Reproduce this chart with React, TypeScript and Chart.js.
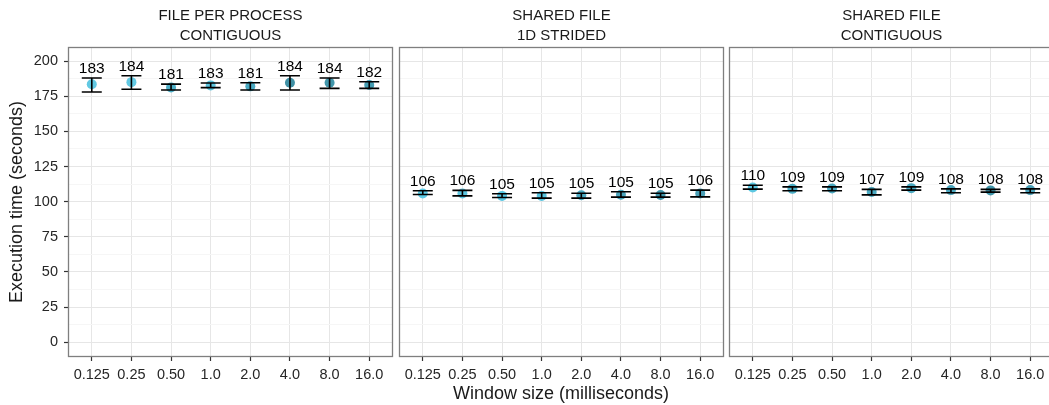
import React, { useEffect, useRef } from "react";
import { Chart, registerables } from "chart.js";

Chart.register(...registerables);

// ---------- data ----------
const windowSizes = ["0.125", "0.25", "0.50", "1.0", "2.0", "4.0", "8.0", "16.0"];
const yMajorTicks = [0, 25, 50, 75, 100, 125, 150, 175, 200];
const yMinorTicks = [12.5, 37.5, 62.5, 87.5, 112.5, 137.5, 162.5, 187.5];

const stripTitles = [
  ["FILE PER PROCESS", "CONTIGUOUS"],
  ["SHARED FILE", "1D STRIDED"],
  ["SHARED FILE", "CONTIGUOUS"],
];

// FILE PER PROCESS / CONTIGUOUS
const fppPoint = [183.5, 185, 181.2, 182.7, 182, 184.6, 184.6, 183];
const fppLow = [178, 180, 179.4, 181.1, 179.4, 179.4, 180.6, 180.6];
const fppHigh = [188, 189.5, 183.6, 184.4, 184.6, 189.6, 188, 185.3];
const fppLabel = [183, 184, 181, 183, 181, 184, 184, 182];

// SHARED FILE / 1D STRIDED
const sfsPoint = [105.8, 105.8, 104.1, 104.1, 104.6, 104.9, 104.7, 105.8];
const sfsLow = [105.1, 104.1, 103, 102.5, 102.5, 103.2, 103.2, 103.4];
const sfsHigh = [107.7, 108, 105.6, 106.3, 106, 107, 106, 108.2];
const sfsLabel = [106, 106, 105, 105, 105, 105, 105, 106];

// SHARED FILE / CONTIGUOUS
const sfcPoint = [110.1, 109.1, 109.4, 106.8, 109.6, 108.2, 108, 108.2];
const sfcLow = [108.9, 107.7, 107.7, 104.8, 108.2, 106.3, 106.8, 106.3];
const sfcHigh = [111.7, 110.5, 110.5, 108.7, 110.5, 109.1, 108.7, 109.1];
const sfcLabel = [110, 109, 109, 107, 109, 108, 108, 108];

// point colours (style)
const fppColors = ["#62c9e3", "#62c9e3", "#4caec6", "#5cc4de", "#4aaac3", "#3f90a5", "#4196ab", "#449db3"];
const sfsColors = ["#5ccbe6", "#5cc6e0", "#54c5e2", "#56c3de", "#4aa9c1", "#4aa4bc", "#3f93a8", "#4aa0b7"];
const sfcColors = ["#5cc8e2", "#4aaec6", "#4aa9c1", "#4aa9c1", "#4aa9c1", "#4aa5bd", "#3f95aa", "#4aa0b8"];

const FONT = "'Liberation Sans', Arial, Helvetica, sans-serif";

type Panel = {
  titles: string[];
  point: number[];
  low: number[];
  high: number[];
  label: number[];
  colors: string[];
};

const panels: Panel[] = [
  { titles: stripTitles[0], point: fppPoint, low: fppLow, high: fppHigh, label: fppLabel, colors: fppColors },
  { titles: stripTitles[1], point: sfsPoint, low: sfsLow, high: sfsHigh, label: sfsLabel, colors: sfsColors },
  { titles: stripTitles[2], point: sfcPoint, low: sfcLow, high: sfcHigh, label: sfcLabel, colors: sfcColors },
];

// layout (style)
const canvasLefts = [0, 396, 726];
const canvasWidths = [396, 330, 330];
const yAxisWidths = [68, 3, 3];
const rightPads = [3, 2, 2];
const H = 405;

function makeChart(canvas: HTMLCanvasElement, idx: number) {
  const p = panels[idx];
  const first = idx === 0;

  const overlay = {
    id: "overlay" + idx,
    afterDatasetsDraw(chart: any) {
      const { ctx, chartArea } = chart;
      const xs = chart.scales.x;
      const ys = chart.scales.y;
      ctx.save();
      ctx.beginPath();
      ctx.rect(chartArea.left, chartArea.top, chartArea.right - chartArea.left, chartArea.bottom - chartArea.top);
      ctx.clip();
      ctx.strokeStyle = "#000";
      ctx.lineWidth = 1.6;
      for (let i = 0; i < p.point.length; i++) {
        const x = xs.getPixelForValue(i);
        const yl = ys.getPixelForValue(p.low[i]);
        const yh = ys.getPixelForValue(p.high[i]);
        ctx.beginPath();
        ctx.moveTo(x, yl);
        ctx.lineTo(x, yh);
        ctx.moveTo(x - 10, yl);
        ctx.lineTo(x + 10, yl);
        ctx.moveTo(x - 10, yh);
        ctx.lineTo(x + 10, yh);
        ctx.stroke();
      }
      ctx.fillStyle = "#000";
      ctx.font = `15.5px ${FONT}`;
      ctx.textAlign = "center";
      ctx.textBaseline = "alphabetic";
      for (let i = 0; i < p.point.length; i++) {
        const x = xs.getPixelForValue(i);
        const yh = ys.getPixelForValue(p.high[i]);
        ctx.fillText(String(p.label[i]), x, yh - 5);
      }
      ctx.restore();
    },
    afterDraw(chart: any) {
      const { ctx, chartArea } = chart;
      ctx.save();
      ctx.strokeStyle = "#7f7f7f";
      ctx.lineWidth = 1.3;
      ctx.strokeRect(chartArea.left + 0.5, chartArea.top + 0.5, chartArea.right - chartArea.left - 1, chartArea.bottom - chartArea.top - 1);
      ctx.fillStyle = "#1a1a1a";
      ctx.font = `15px ${FONT}`;
      ctx.textAlign = "center";
      ctx.textBaseline = "middle";
      const cx = (chartArea.left + chartArea.right) / 2;
      ctx.fillText(p.titles[0], cx, 15.5);
      ctx.fillText(p.titles[1], cx, 35.5);
      ctx.restore();
    },
  };

  const isMajor = (v: number) => yMajorTicks.includes(v);

  return new Chart(canvas, {
    type: "scatter",
    data: {
      datasets: [
        {
          data: p.point.map((v, i) => ({ x: i, y: v })),
          pointRadius: 5,
          pointHoverRadius: 5,
          pointBorderWidth: 0,
          pointBackgroundColor: p.colors,
          pointBorderColor: p.colors,
          showLine: false,
        },
      ],
    },
    options: {
      animation: false,
      responsive: false,
      devicePixelRatio: 1,
      events: [],
      layout: { autoPadding: false, padding: { top: 47, right: rightPads[idx], left: 0, bottom: 0 } },
      plugins: { legend: { display: false }, tooltip: { enabled: false }, title: { display: false } },
      scales: {
        x: {
          type: "linear",
          min: -0.6,
          max: 7.6,
          bounds: "data",
          afterBuildTicks: (s: any) => {
            s.ticks = windowSizes.map((_, i) => ({ value: i }));
          },
          afterFit: (s: any) => {
            s.height = H - 357;
          },
          ticks: {
            autoSkip: false,
            maxRotation: 0,
            padding: 5,
            color: "#262626",
            font: { size: 14.5, family: FONT },
            callback: (v: any) => windowSizes[v] ?? "",
          },
          grid: {
            color: "#e6e6e6",
            lineWidth: 1,
            tickLength: 4,
            tickColor: "#333",
            tickWidth: 1.2,
          },
          border: { display: false },
        },
        y: {
          type: "linear",
          min: -10.5,
          max: 210,
          bounds: "data",
          afterBuildTicks: (s: any) => {
            s.ticks = [...yMajorTicks, ...yMinorTicks].sort((a, b) => a - b).map((v) => ({ value: v }));
          },
          afterFit: (s: any) => {
            s.width = yAxisWidths[idx];
          },
          ticks: {
            display: first,
            autoSkip: false,
            padding: 6,
            color: "#262626",
            font: { size: 14.5, family: FONT },
            callback: (v: any) => (isMajor(v) ? String(v) : ""),
          },
          grid: {
            drawTicks: first,
            tickLength: 4,
            tickWidth: 1.2,
            color: (c: any) => (isMajor(c.tick?.value) ? "#e6e6e6" : "#f6f6f6"),
            tickColor: (c: any) => (isMajor(c.tick?.value) ? "#333" : "rgba(0,0,0,0)"),
            lineWidth: 1,
          },
          border: { display: false },
          title: {
            display: first,
            text: "Execution time (seconds)",
            color: "#1a1a1a",
            font: { size: 18, family: FONT },
            padding: { top: 6, bottom: 0 },
          },
        },
      },
    },
    plugins: [overlay],
  } as any);
}

function PanelCanvas({ idx }: { idx: number }) {
  const ref = useRef<HTMLCanvasElement | null>(null);
  useEffect(() => {
    if (!ref.current) return;
    const c = makeChart(ref.current, idx);
    return () => c.destroy();
  }, [idx]);
  return (
    <canvas
      ref={ref}
      width={canvasWidths[idx]}
      height={H}
      style={{ position: "absolute", left: canvasLefts[idx], top: 0, width: canvasWidths[idx], height: H }}
    />
  );
}

export default function App() {
  return (
    <div
      style={{
        position: "absolute",
        left: 0,
        top: 0,
        width: 1049,
        height: H,
        overflow: "hidden",
        background: "#fff",
      }}
    >
      <PanelCanvas idx={0} />
      <PanelCanvas idx={1} />
      <PanelCanvas idx={2} />
      <div
        style={{
          position: "absolute",
          left: 68,
          width: 986,
          top: 382,
          textAlign: "center",
          fontFamily: FONT,
          fontSize: 18,
          lineHeight: "22px",
          color: "#1a1a1a",
        }}
      >
        Window size (milliseconds)
      </div>
    </div>
  );
}
